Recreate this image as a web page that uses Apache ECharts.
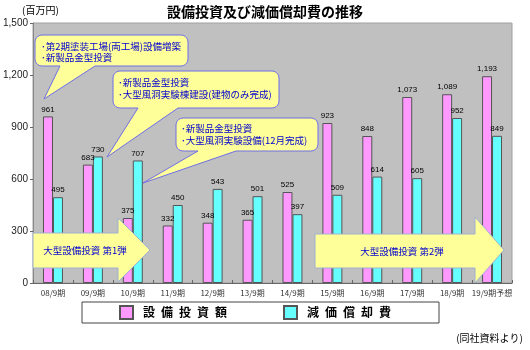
<!DOCTYPE html>
<html>
<head>
<meta charset="utf-8">
<script src="https://cdn.jsdelivr.net/npm/echarts@6/dist/echarts.min.js"></script>
<style>
  html, body { margin: 0; padding: 0; background: #fff; }
  #chart { width: 530px; height: 350px; }
</style>
</head>
<body>
<div id="chart"></div>
<script>
// Fiscal periods (September year-end)
const periods = ['08/9期', '09/9期', '10/9期', '11/9期', '12/9期', '13/9期',
                 '14/9期', '15/9期', '16/9期', '17/9期', '18/9期', '19/9期予想'];
// Capital expenditure (百万円)
const capex = [961, 683, 375, 332, 348, 365, 525, 923, 848, 1073, 1089, 1193];
// Depreciation (百万円)
const depreciation = [495, 730, 707, 450, 543, 501, 397, 509, 614, 605, 952, 849];
const yTicks = [0, 300, 600, 900, 1200, 1500];

const seriesNames = ['設\u2002備\u2002投\u2002資\u2002額', '減\u2002価\u2002償\u2002却\u2002費'];

const JP = '"Noto Sans CJK JP", "Noto Sans", sans-serif';
const LAT = '"Liberation Sans", Arial, sans-serif';
const fmt = v => Number(v).toLocaleString('en-US');

const chart = echarts.init(document.getElementById('chart'), null, { renderer: 'canvas' });

// Rounded balloon with a wedge on its bottom edge pointing to (tx, ty)
function balloon(x0, y0, x1, y1, r, bx0, bx1, tx, ty) {
  const pts = [];
  const arc = (cx, cy, a0, a1) => {
    for (let i = 0; i <= 5; i++) {
      const a = a0 + (a1 - a0) * i / 5;
      pts.push([cx + r * Math.cos(a), cy + r * Math.sin(a)]);
    }
  };
  const P = Math.PI;
  arc(x0 + r, y0 + r, P, 1.5 * P);
  arc(x1 - r, y0 + r, 1.5 * P, 2 * P);
  arc(x1 - r, y1 - r, 0, 0.5 * P);
  pts.push([bx1, y1], [tx, ty], [bx0, y1]);
  arc(x0 + r, y1 - r, 0.5 * P, P);
  return pts;
}

// Block arrow pointing right
function blockArrow(x0, bodyTop, bodyBottom, headX, headTop, headBottom, tipX) {
  const mid = (headTop + headBottom) / 2;
  return [[x0, bodyTop], [headX, bodyTop], [headX, headTop], [tipX, mid],
          [headX, headBottom], [headX, bodyBottom], [x0, bodyBottom]];
}

const noteFill = '#ffff99';
const noteStroke = '#6f6fe8';
const noteText = '#0000d0';

function noteLines(x, ys, lines) {
  return lines.map((t, i) => ({
    type: 'text', z: 101, x: x, y: ys[i],
    style: { text: t, fill: noteText, font: '9.5px ' + JP, textVerticalAlign: 'middle' }
  }));
}

const graphics = [
  { type: 'text', left: 22, top: 5, style: { text: '(百万円)', fill: '#000', font: '10px ' + JP } },
  { type: 'text', right: 7, top: 333, style: { text: '(同社資料より)', fill: '#000', font: '10px ' + JP } },

  // Balloon notes
  { type: 'polygon', z: 100, shape: { points: balloon(35, 35, 188, 66, 7, 60, 95, 44, 99) },
    style: { fill: noteFill, stroke: noteStroke, lineWidth: 1 } },
  ...noteLines(41, [46, 57], ['･第2期塗装工場(両工場)設備増築', '･新製品金型投資']),

  { type: 'polygon', z: 100, shape: { points: balloon(113, 71, 279, 108, 7, 138, 178, 107, 157) },
    style: { fill: noteFill, stroke: noteStroke, lineWidth: 1 } },
  ...noteLines(118, [82, 94], ['･新製品金型投資', '･大型風洞実験棟建設(建物のみ完成)']),

  { type: 'polygon', z: 100, shape: { points: balloon(176, 118, 318, 151, 7, 198, 236, 143, 183) },
    style: { fill: noteFill, stroke: noteStroke, lineWidth: 1 } },
  ...noteLines(181, [128, 140], ['･新製品金型投資', '･大型風洞実験設備(12月完成)']),

  // Investment phase arrows
  { type: 'polygon', z: 100, shape: { points: blockArrow(33, 233, 268, 118, 218, 282, 150) },
    style: { fill: noteFill, stroke: '#9fb0d0', lineWidth: 1 } },
  { type: 'text', z: 101, x: 85, y: 250,
    style: { text: '大型設備投資 第1弾', fill: noteText, font: '9.5px ' + JP,
             textAlign: 'center', textVerticalAlign: 'middle' } },

  { type: 'polygon', z: 100, shape: { points: blockArrow(315, 234, 268, 475, 217, 283, 504) },
    style: { fill: noteFill, stroke: '#9fb0d0', lineWidth: 1 } },
  { type: 'text', z: 101, x: 402, y: 251,
    style: { text: '大型設備投資 第2弾', fill: noteText, font: '9.5px ' + JP,
             textAlign: 'center', textVerticalAlign: 'middle' } }
];

const barLabel = {
  show: true, position: 'top', distance: 3,
  color: '#000', fontSize: 8, fontFamily: LAT,
  formatter: p => fmt(p.value)
};

chart.setOption({
  animation: false,
  backgroundColor: '#fff',
  title: {
    text: '設備投資及び減価償却費の推移',
    left: 'center', top: 0,
    textStyle: { fontSize: 14, fontWeight: 'bold', color: '#000', fontFamily: JP }
  },
  grid: {
    left: 33, right: 18, top: 23, bottom: 67,
    show: true, backgroundColor: '#c0c0c0', borderColor: '#a0a0a0', borderWidth: 1
  },
  legend: {
    data: seriesNames,
    left: 82, top: 302,
    icon: 'rect', itemWidth: 13, itemHeight: 13, itemGap: 56,
    padding: [3, 48, 3, 37],
    borderColor: '#444', borderWidth: 1,
    textStyle: { fontSize: 12, fontWeight: 'bold', color: '#000', fontFamily: JP, padding: [0, 0, 0, 5] }
  },
  xAxis: {
    type: 'category', data: periods,
    axisLine: { lineStyle: { color: '#666' } },
    axisTick: { show: true, inside: true, length: 3, lineStyle: { color: '#666' } },
    axisLabel: { fontSize: 8, color: '#333', fontFamily: JP, margin: 6, interval: 0 }
  },
  yAxis: {
    type: 'value', min: yTicks[0], max: yTicks[yTicks.length - 1],
    interval: yTicks[1] - yTicks[0],
    axisLine: { show: true, lineStyle: { color: '#888' } },
    axisTick: { show: true, length: 3, lineStyle: { color: '#666' } },
    splitLine: { show: false },
    axisLabel: { fontSize: 10, color: '#222', fontFamily: LAT, margin: 5, formatter: v => fmt(v) }
  },
  series: [
    {
      name: seriesNames[0], type: 'bar', data: capex,
      barGap: '0%', barCategoryGap: '50%',
      itemStyle: { color: '#ff99ff', borderColor: '#555', borderWidth: 1 },
      label: barLabel
    },
    {
      name: seriesNames[1], type: 'bar', data: depreciation,
      itemStyle: { color: '#66ffff', borderColor: '#555', borderWidth: 1 },
      label: barLabel
    }
  ],
  graphic: graphics
});
</script>
</body>
</html>
